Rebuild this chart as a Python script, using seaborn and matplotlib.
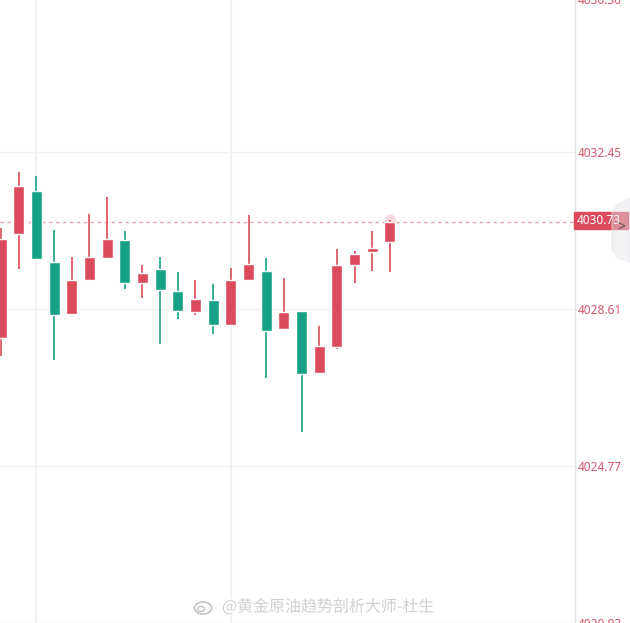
import numpy as np
import pandas as pd
import matplotlib
matplotlib.use('Agg')
import matplotlib.pyplot as plt
import matplotlib.patheffects as pe
from matplotlib.patches import Polygon, Ellipse, Rectangle
import seaborn as sns

# OHLC (red = up, green = down)
opens  = [4027.90, 4030.44, 4031.50, 4029.76, 4028.49, 4029.32, 4029.86, 4030.30,
          4029.25, 4029.59, 4029.05, 4028.54, 4028.83, 4028.22, 4029.32, 4029.54,
          4028.12, 4028.56, 4027.04, 4027.68, 4029.69, 4030.00, 4030.25]
highs  = [4030.59, 4031.96, 4031.86, 4030.54, 4029.88, 4030.93, 4031.35, 4030.52,
          4029.69, 4029.88, 4029.51, 4029.32, 4029.22, 4029.61, 4030.91, 4029.86,
          4029.37, 4028.56, 4028.19, 4030.08, 4030.03, 4030.52, 4030.78]
lows   = [4027.46, 4029.59, 4029.80, 4027.36, 4028.49, 4029.30, 4029.84, 4029.10,
          4028.88, 4027.75, 4028.37, 4028.46, 4028.00, 4028.20, 4029.30, 4026.92,
          4028.10, 4025.60, 4027.02, 4027.63, 4029.25, 4029.54, 4029.51]
closes = [4030.32, 4031.62, 4029.83, 4028.46, 4029.32, 4029.88, 4030.32, 4029.25,
          4029.49, 4029.07, 4028.56, 4028.85, 4028.22, 4029.32, 4029.71, 4028.07,
          4028.54, 4027.02, 4027.70, 4029.69, 4029.96, 4030.10, 4030.73]
price_ticks = [4020.93, 4024.77, 4028.61, 4032.45]
top_tick = 4036.30
last_price = 4030.73
watermark = '@黄金原油趋势剖析大师-杜生'

df = pd.DataFrame({'open': opens, 'high': highs, 'low': lows, 'close': closes})
df['idx'] = np.arange(len(df))
df['up'] = df['close'] >= df['open']

red = '#dc4b5b'
green = '#17a286'
label_col = '#d6566b'
colors = [red if u else green for u in df['up']]

sns.set_style('white')
plt.rcParams['font.family'] = ['Noto Sans', 'DejaVu Sans']

fig = plt.figure(figsize=(6.3, 6.23), dpi=100)
ax = fig.add_axes([0, 0, 575 / 630, 1])

# grid
for yv in price_ticks:
    ax.axhline(yv, color='#f1f1f1', lw=1, zorder=0)
for xv in [2, 13]:
    ax.axvline(xv, color='#f2f2f2', lw=1.5, zorder=0)

# candles
ax.vlines(df['idx'], df['low'], df['high'], color=colors, lw=1.2, zorder=2)
body_low = df[['open', 'close']].min(axis=1)
body_h = (df['close'] - df['open']).abs()
ax.bar(df['idx'], body_h, bottom=body_low, width=0.62, color=colors, zorder=3)

# glow on the latest candle
ax.scatter([df['idx'].iloc[-1]], [df['high'].iloc[-1]], s=70, color='#f0a0aa',
           alpha=0.4, lw=0, zorder=1)

# last price line
ax.axhline(last_price, color='#e8a6ad', lw=1, ls=(0, (2.5, 2.5)), zorder=1)

ax.set_xticks([])
ax.yaxis.tick_right()
ax.set_yticks(price_ticks)
ax.set_yticklabels([f'{v:.2f}' for v in price_ticks])
ax.set_xlim(-0.06, 32.47)
ax.set_ylim(4020.93, 4036.16)
ax.tick_params(axis='y', length=0, pad=2.2, labelsize=8.5, labelcolor=label_col)
for s in ['top', 'left', 'bottom']:
    ax.spines[s].set_visible(False)
ax.spines['right'].set_color('#e6e6e6')
ax.spines['right'].set_linewidth(1)

# top tick label, cut by the edge of the picture
ax.annotate(f'{top_tick:.2f}', xy=(1, top_tick), xycoords=('axes fraction', 'data'),
            xytext=(2.2, -4.5), textcoords='offset points', ha='left', va='center',
            fontsize=8.5, color=label_col, annotation_clip=False)

# price box on the axis
fig.patches.append(Rectangle((574 / 630, 1 - 229 / 623), 54 / 630, 17 / 623,
                             transform=fig.transFigure, color=red, zorder=5))
fig.text(576.5 / 630, 1 - 220.5 / 623, f'{last_price:.2f}', color='white',
         fontsize=8.5, va='center', ha='left', zorder=6)

# side tab with chevron
tab = [(630, 198), (618, 204), (612, 212), (612, 250), (618, 258), (630, 262)]
fig.patches.append(Polygon([(x / 630, 1 - y / 623) for x, y in tab], closed=True,
                           transform=fig.transFigure, color='#e4e4ea', alpha=0.45,
                           zorder=7))
fig.text(621 / 630, 1 - 228 / 623, '>', color='#555555', fontsize=10,
         ha='center', va='center', zorder=8)

# watermark
fig.patches.append(Ellipse((203 / 630, 1 - 608 / 623), 17 / 630, 12 / 623,
                           transform=fig.transFigure, fill=False,
                           edgecolor='#c4c4c4', lw=1.2, zorder=8))
fig.patches.append(Ellipse((201 / 630, 1 - 609 / 623), 7 / 630, 5 / 623,
                           transform=fig.transFigure, fill=False,
                           edgecolor='#c4c4c4', lw=1, zorder=8))
fig.text(222 / 630, 1 - 607 / 623, watermark, fontsize=11.5, color='#d0d0d0',
         family=['Noto Sans CJK SC', 'DejaVu Sans'], ha='left', va='center',
         zorder=8, path_effects=[pe.withStroke(linewidth=2, foreground='white')])

fig.savefig('out.png', dpi=100)
